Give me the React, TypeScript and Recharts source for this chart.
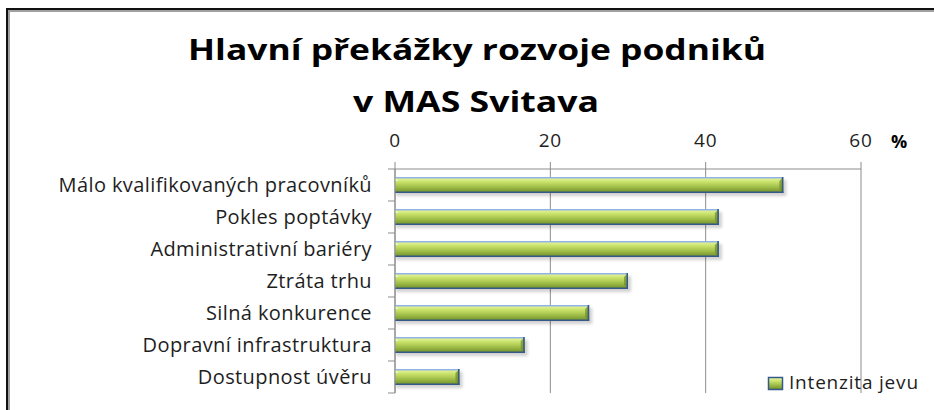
import { BarChart, Bar, XAxis, YAxis, CartesianGrid } from 'recharts';

const categories = [
  'Málo kvalifikovaných pracovníků',
  'Pokles poptávky',
  'Administrativní bariéry',
  'Ztráta trhu',
  'Silná konkurence',
  'Dopravní infrastruktura',
  'Dostupnost úvěru',
];
const intenzita = [50, 41.7, 41.7, 30, 25, 16.7, 8.3];
const xTicks = [0, 20, 40, 60];
const seriesName = 'Intenzita jevu';
const titleLines = ['Hlavní překážky rozvoje podniků', 'v MAS Svitava'];
const unitLabel = '%';

const data = categories.map((name, i) => ({ name, value: intenzita[i] }));

const W = 934;
const H = 410;
const PLOT_LEFT = 395;
const PLOT_TOP = 169;
const PLOT_RIGHT = 861;
const PLOT_BOTTOM = 393;
const BAND = (PLOT_BOTTOM - PLOT_TOP) / categories.length;
const GRID = '#8c8c8c';
const TEXT = '#1e1e1e';
const FONT = '"Open Sans", sans-serif';

const CategoryTick = (props: any) => {
  const { y, payload, index } = props;
  const half = BAND / 2;
  return (
    <g>
      <line x1={PLOT_LEFT - 7} x2={PLOT_LEFT} y1={y - half} y2={y - half} stroke={GRID} />
      {index === categories.length - 1 && (
        <line x1={PLOT_LEFT - 7} x2={PLOT_LEFT} y1={y + half} y2={y + half} stroke={GRID} />
      )}
      <text
        x={PLOT_LEFT - 23}
        y={y}
        dy="0.35em"
        textAnchor="end"
        fill={TEXT}
        fontFamily={FONT}
        fontSize={20}
        letterSpacing={0.4}
      >
        {payload.value}
      </text>
    </g>
  );
};

const BevelBar = (props: any) => {
  const { x, y, width, height } = props;
  if (!width || width <= 0) return null;
  const b = 4;
  return (
    <g>
      <rect x={x + 1} y={y + 3} width={width + 2} height={height} fill="#000" opacity={0.18} filter="url(#barShadow)" />
      <rect x={x} y={y} width={width} height={height} fill="url(#barFill)" />
      <polygon points={`${x},${y} ${x + b},${y + b} ${x},${y + b}`} fill="#f1f9c0" opacity={0.8} />
      <polygon
        points={`${x + width},${y} ${x + width},${y + height} ${x + width - b},${y + height - b} ${x + width - b},${y + b}`}
        fill="#6f8b2a"
        opacity={0.7}
      />
      <line x1={x} x2={x + width} y1={y + 0.75} y2={y + 0.75} stroke="#8fb4e3" strokeWidth={1.5} />
      <line x1={x} x2={x + width} y1={y + height - 0.75} y2={y + height - 0.75} stroke="#34598a" strokeWidth={1.5} />
      <line x1={x + width - 0.75} x2={x + width - 0.75} y1={y} y2={y + height} stroke="#34598a" strokeWidth={1.5} />
    </g>
  );
};

export default function App() {
  return (
    <div style={{ position: 'absolute', left: 0, top: 0, width: W, height: H, background: '#fff', overflow: 'hidden' }}>
      <svg width={0} height={0} style={{ position: 'absolute' }}>
        <defs>
          <linearGradient id="barFill" x1="0" y1="0" x2="0" y2="1">
            <stop offset="0%" stopColor="#ecf8a8" />
            <stop offset="30%" stopColor="#c9e36c" />
            <stop offset="60%" stopColor="#a3c14b" />
            <stop offset="100%" stopColor="#6f8d27" />
          </linearGradient>
          <filter id="barShadow" x="-10%" y="-50%" width="120%" height="200%">
            <feGaussianBlur stdDeviation="1.5" />
          </filter>
        </defs>
      </svg>

      <BarChart
        width={W}
        height={H}
        data={data}
        layout="vertical"
        margin={{ top: PLOT_TOP - 30, right: W - PLOT_RIGHT, bottom: H - PLOT_BOTTOM, left: 0 }}
      >
        <CartesianGrid horizontal={false} stroke={GRID} />
        <XAxis
          type="number"
          orientation="top"
          height={30}
          domain={[0, 60]}
          ticks={xTicks}
          interval={0}
          stroke={GRID}
          tickSize={7}
          tickMargin={15}
          tick={{ fill: TEXT, fontFamily: FONT, fontSize: 19, letterSpacing: 0.8 }}
        />
        <YAxis
          type="category"
          dataKey="name"
          width={PLOT_LEFT}
          stroke={GRID}
          tickLine={false}
          interval={0}
          tick={<CategoryTick />}
        />
        <Bar dataKey="value" name={seriesName} barSize={16} shape={<BevelBar />} isAnimationActive={false} />
      </BarChart>

      <svg width={W} height={H} style={{ position: 'absolute', left: 0, top: 0, pointerEvents: 'none' }}>
        <text x={477} y={60} textAnchor="middle" fontFamily={FONT} fontWeight={700} fontSize={28} fill="#000" textLength={578} lengthAdjust="spacingAndGlyphs">
          {titleLines[0]}
        </text>
        <text x={476} y={112} textAnchor="middle" fontFamily={FONT} fontWeight={700} fontSize={28} fill="#000" textLength={246} lengthAdjust="spacingAndGlyphs">
          {titleLines[1]}
        </text>
        <text x={899} y={148} textAnchor="middle" fontFamily={FONT} fontWeight={700} fontSize={18} fill="#000">
          {unitLabel}
        </text>
        <rect x={768.5} y={377.5} width={14} height={12} fill="url(#barFill)" stroke="#34598a" strokeWidth={1.5} />
        <text x={789} y={389} fontFamily={FONT} fontSize={19} letterSpacing={0.8} fill={TEXT}>
          {seriesName}
        </text>
      </svg>

      <div
        style={{
          position: 'absolute',
          left: 6,
          top: 8,
          width: W,
          height: H,
          borderLeft: '2px solid #111',
          borderTop: '2px solid #111',
          boxShadow: 'inset 2px 2px 0 #a0a0a0',
          pointerEvents: 'none',
        }}
      />
    </div>
  );
}
